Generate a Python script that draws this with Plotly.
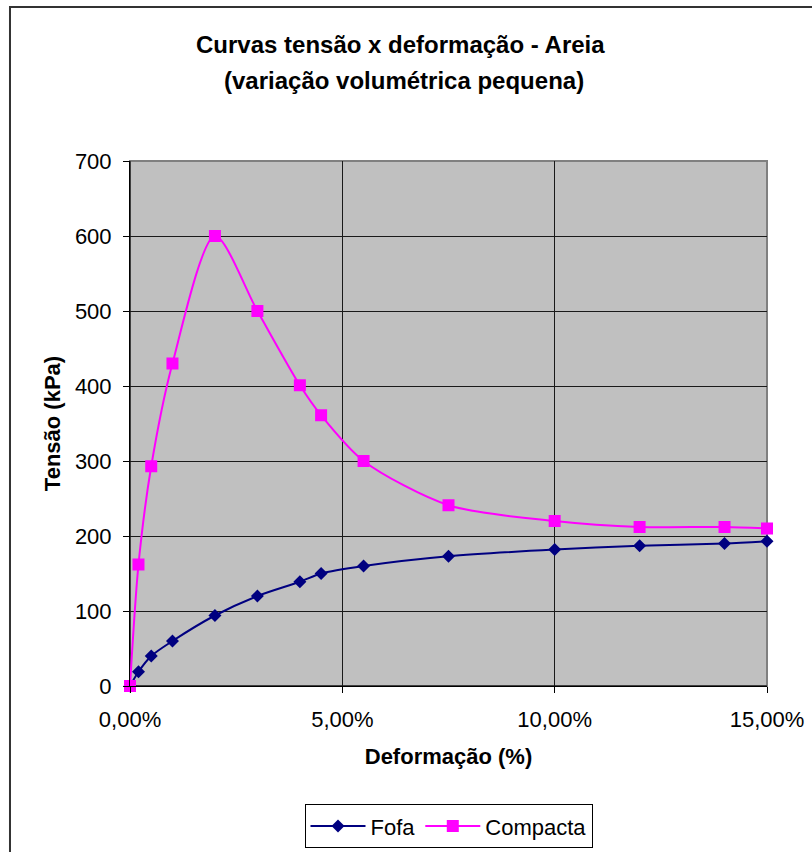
import plotly.graph_objects as go

# Deformação axial (fração) e tensão desviadora (kPa)
fofa_def = [0.0, 0.002, 0.005, 0.01, 0.02, 0.03, 0.04, 0.045, 0.055, 0.075, 0.10, 0.12, 0.14, 0.15]
fofa_tensao = [0, 19, 40, 60, 94, 120, 139, 150, 160, 173, 182, 187, 190, 193]

compacta_def = [0.0, 0.002, 0.005, 0.01, 0.02, 0.03, 0.04, 0.045, 0.055, 0.075, 0.10, 0.12, 0.14, 0.15]
compacta_tensao = [0, 162, 293, 430, 600, 500, 401, 361, 300, 241, 220, 212, 212, 210]

x_ticks = [0.0, 0.05, 0.10, 0.15]
y_ticks = [0, 100, 200, 300, 400, 500, 600, 700]

FONT = "Liberation Sans, Arial, sans-serif"

fig = go.Figure()

fig.add_trace(go.Scatter(
    x=fofa_def, y=fofa_tensao, name="Fofa",
    mode="lines+markers",
    line=dict(color="#000080", width=2, shape="spline", smoothing=0.8),
    marker=dict(symbol="diamond", size=10, color="#000080"),
    cliponaxis=False,
))

fig.add_trace(go.Scatter(
    x=compacta_def, y=compacta_tensao, name="Compacta",
    mode="lines+markers",
    line=dict(color="#FF00FF", width=2, shape="spline", smoothing=0.8),
    marker=dict(symbol="square", size=12, color="#FF00FF"),
    cliponaxis=False,
))

fig.update_layout(
    width=812, height=852,
    margin=dict(l=130, r=45, t=161, b=166, autoexpand=False),
    paper_bgcolor="white",
    plot_bgcolor="#C0C0C0",
    separators=",.",
    font=dict(family=FONT, size=22, color="black"),
    showlegend=True,
    legend=dict(
        orientation="h",
        x=0.5, xanchor="center",
        y=-0.225, yanchor="top",
        bgcolor="white",
        bordercolor="black", borderwidth=1,
        font=dict(family=FONT, size=22, color="black"),
        itemwidth=55,
        tracegroupgap=0,
    ),
    xaxis=dict(
        range=[0, 0.15],
        tickvals=x_ticks,
        tickformat=".2%",
        showgrid=True, gridcolor="#1a1a1a", gridwidth=1,
        zeroline=False,
        showline=True, linecolor="black", linewidth=1,
        ticks="outside", ticklen=6, tickcolor="black",
        ticklabelstandoff=8,
        tickfont=dict(family=FONT, size=22),
        title=dict(text="<b>Deformação (%)</b>", font=dict(family=FONT, size=22), standoff=17),
    ),
    yaxis=dict(
        range=[0, 700],
        tickvals=y_ticks,
        showgrid=True, gridcolor="#1a1a1a", gridwidth=1,
        zeroline=False,
        showline=True, linecolor="black", linewidth=1,
        ticks="outside", ticklen=6, tickcolor="black",
        ticklabelstandoff=7,
        tickfont=dict(family=FONT, size=22),
        title=dict(text="<b>Tensão (kPa)</b>", font=dict(family=FONT, size=22), standoff=8),
    ),
)

# Título em duas linhas
fig.add_annotation(
    text="<b>Curvas tensão x deformação - Areia</b>",
    xref="paper", yref="paper", x=0.425, y=1.221,
    xanchor="center", yanchor="middle", showarrow=False,
    font=dict(family=FONT, size=24, color="black"),
)
fig.add_annotation(
    text="<b>(variação volumétrica pequena)</b>",
    xref="paper", yref="paper", x=0.43, y=1.154,
    xanchor="center", yanchor="middle", showarrow=False,
    font=dict(family=FONT, size=24, color="black"),
)

# Contorno cinza da área de plotagem (topo e direita)
fig.add_shape(
    type="rect", xref="paper", yref="paper",
    x0=0, y0=0, x1=1, y1=1,
    line=dict(color="#808080", width=2),
    layer="between",
)
# Eixos pretos à esquerda e embaixo por cima do contorno
fig.add_shape(type="line", xref="paper", yref="paper", x0=0, y0=0, x1=0, y1=1,
              line=dict(color="black", width=1), layer="between")
fig.add_shape(type="line", xref="paper", yref="paper", x0=0, y0=0, x1=1, y1=0,
              line=dict(color="black", width=1), layer="between")

# Moldura externa do gráfico
fig.add_shape(
    type="rect", xref="paper", yref="paper",
    x0=-0.1884, y0=-0.40, x1=1.12, y1=1.2933,
    line=dict(color="#333333", width=2),
    layer="below",
)

fig.write_html("out.html")
